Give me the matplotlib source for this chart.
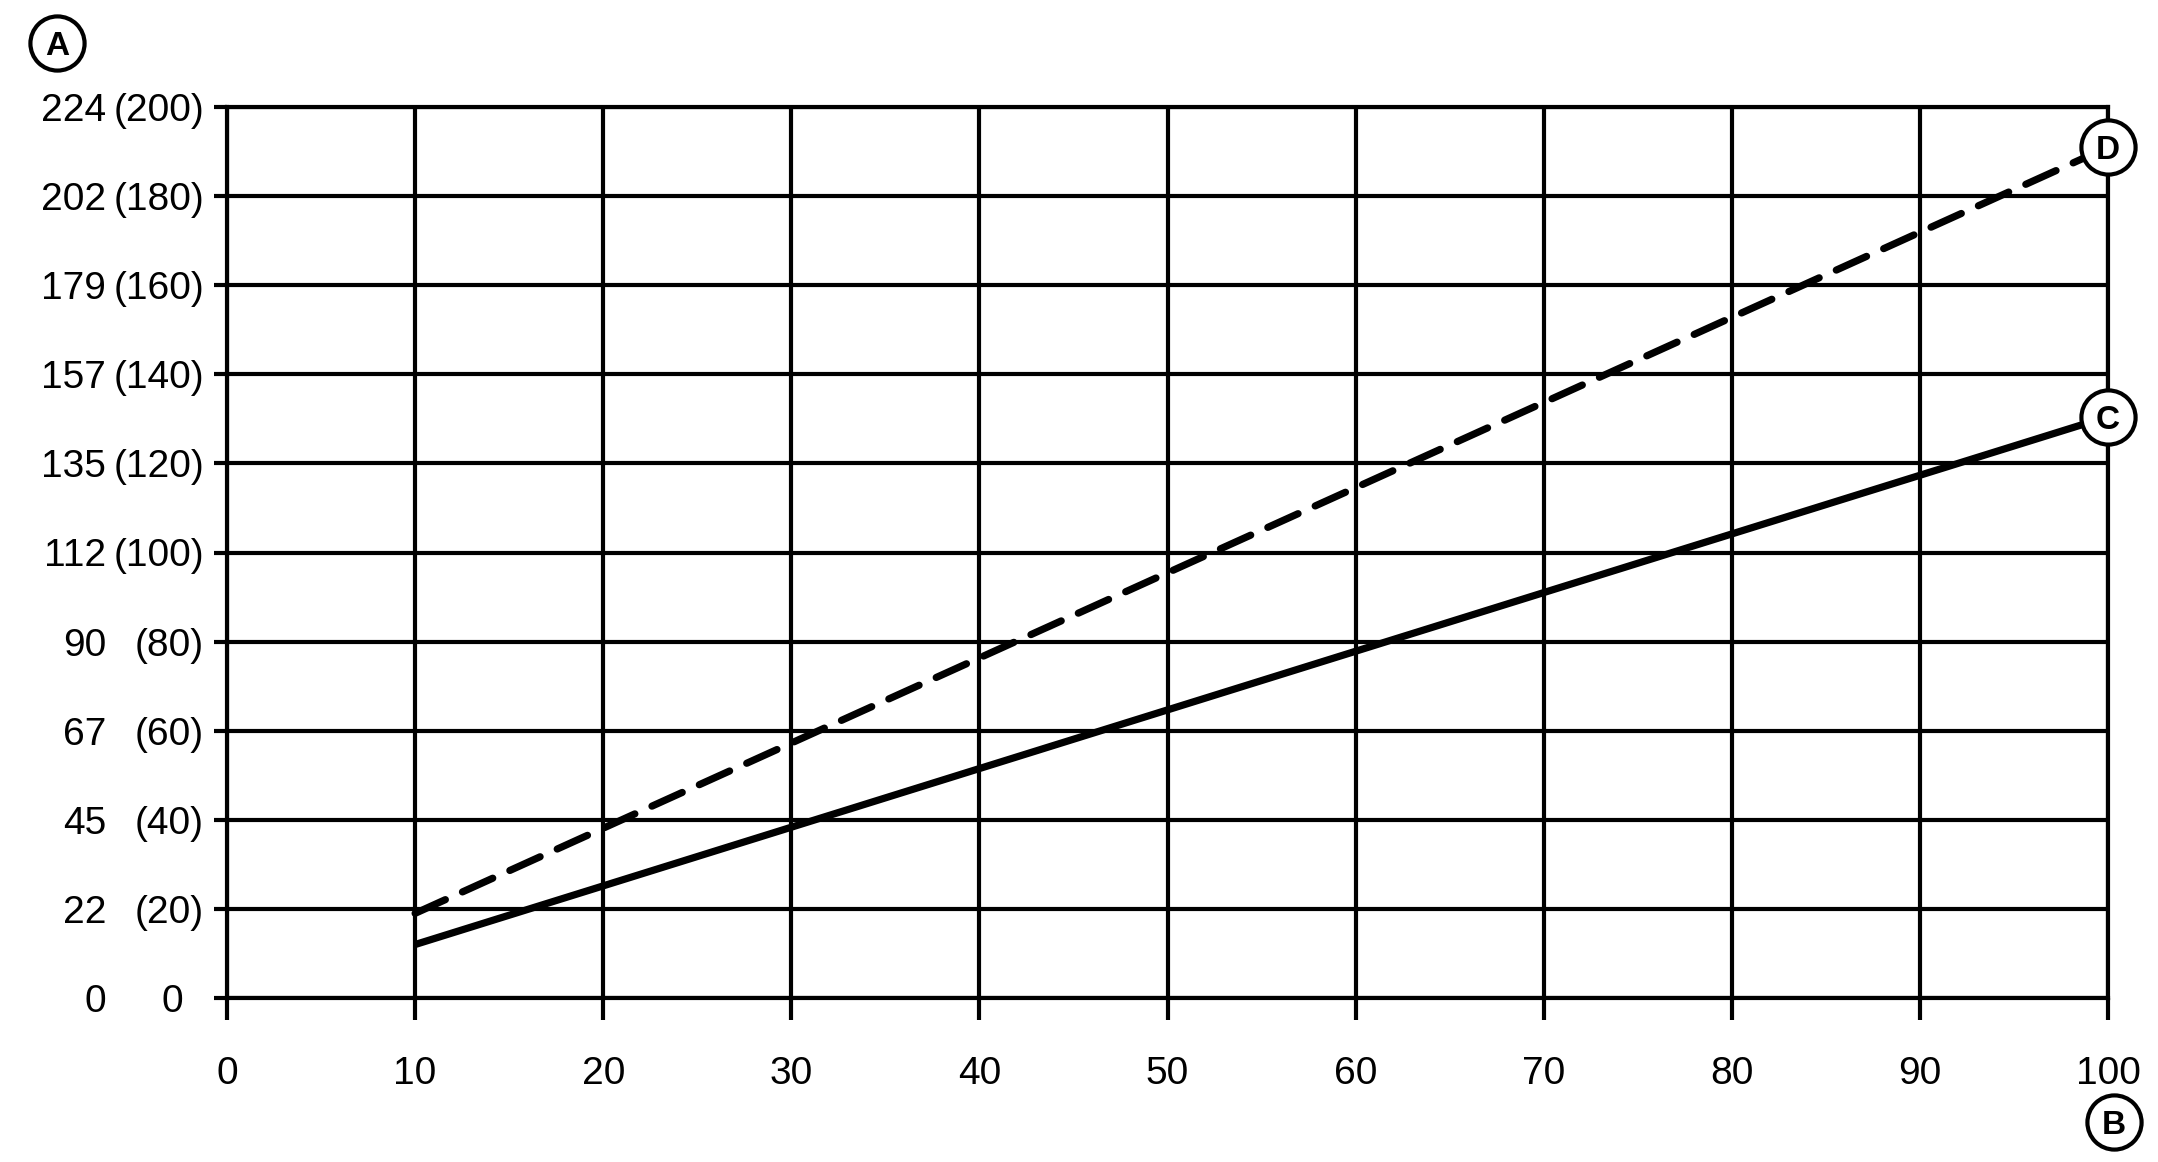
import matplotlib.pyplot as plt

plt.rcParams['font.family'] = ['Liberation Sans', 'DejaVu Sans']

# axis values
x_ticks = [0, 10, 20, 30, 40, 50, 60, 70, 80, 90, 100]
y_ticks = [0, 20, 40, 60, 80, 100, 120, 140, 160, 180, 200]
y_labels_left = ["0", "22", "45", "67", "90", "112", "135", "157", "179", "202", "224"]
y_labels_right = ["0", "(20)", "(40)", "(60)", "(80)", "(100)", "(120)", "(140)",
                  "(160)", "(180)", "(200)"]

# series
c_x = [10, 100]
c_y = [12, 130.5]
d_x = [10, 100]
d_y = [19, 191]

W, H = 2158, 1162
fig = plt.figure(figsize=(W / 100, H / 100), dpi=100)
ax = fig.add_axes([227 / W, 1 - 998 / H, (2108 - 227) / W, (998 - 107) / H])
ax.set_xlim(0, 100)
ax.set_ylim(0, 200)

lw_grid = 3.0
fs = 28
ax.set_xticks(x_ticks)
ax.set_yticks(y_ticks, labels=[])
ax.grid(True, color="black", lw=lw_grid)
for s in ax.spines.values():
    s.set_linewidth(lw_grid)
ax.tick_params(axis="x", length=16, width=lw_grid, pad=26, labelsize=fs)
ax.tick_params(axis="y", length=9.5, width=lw_grid)

# two columns of y labels
ytr = ax.get_yaxis_transform()
axw = 2108 - 227
for y, l_left, l_right in zip(y_ticks, y_labels_left, y_labels_right):
    ax.text((106 - 227) / axw, y, l_left, transform=ytr, ha="right",
            va="center_baseline", fontsize=fs)
    xr = 204 if l_right.startswith("(") else 183
    ax.text((xr - 227) / axw, y, l_right, transform=ytr, ha="right",
            va="center_baseline", fontsize=fs)

# lines
ax.plot(c_x, c_y, color="black", lw=5.2, solid_capstyle="butt", zorder=3)
ax.plot(d_x, d_y, color="black", lw=5.2, ls=(0, (4.6, 2.6)),
        dash_capstyle="round", zorder=3)

# circled markers at line ends
for xs, ys, name in [(c_x, c_y, "C"), (d_x, d_y, "D")]:
    ax.plot(xs[-1], ys[-1], "o", ms=39, mfc="white", mec="black", mew=3.0,
            clip_on=False, zorder=5)
    ax.text(xs[-1], ys[-1], name, ha="center", va="center_baseline",
            fontsize=24, fontweight="bold", zorder=6)

# axis markers A and B
for px, py, name in [(57, 43, "A"), (2114, 1122, "B")]:
    fx, fy = px / W, 1 - py / H
    fig.add_artist(plt.Line2D([fx], [fy], marker="o", ms=39, mfc="white",
                              mec="black", mew=3.0, transform=fig.transFigure))
    fig.text(fx, fy, name, ha="center", va="center_baseline",
             fontsize=24, fontweight="bold")

fig.savefig("out.png", dpi=100)
